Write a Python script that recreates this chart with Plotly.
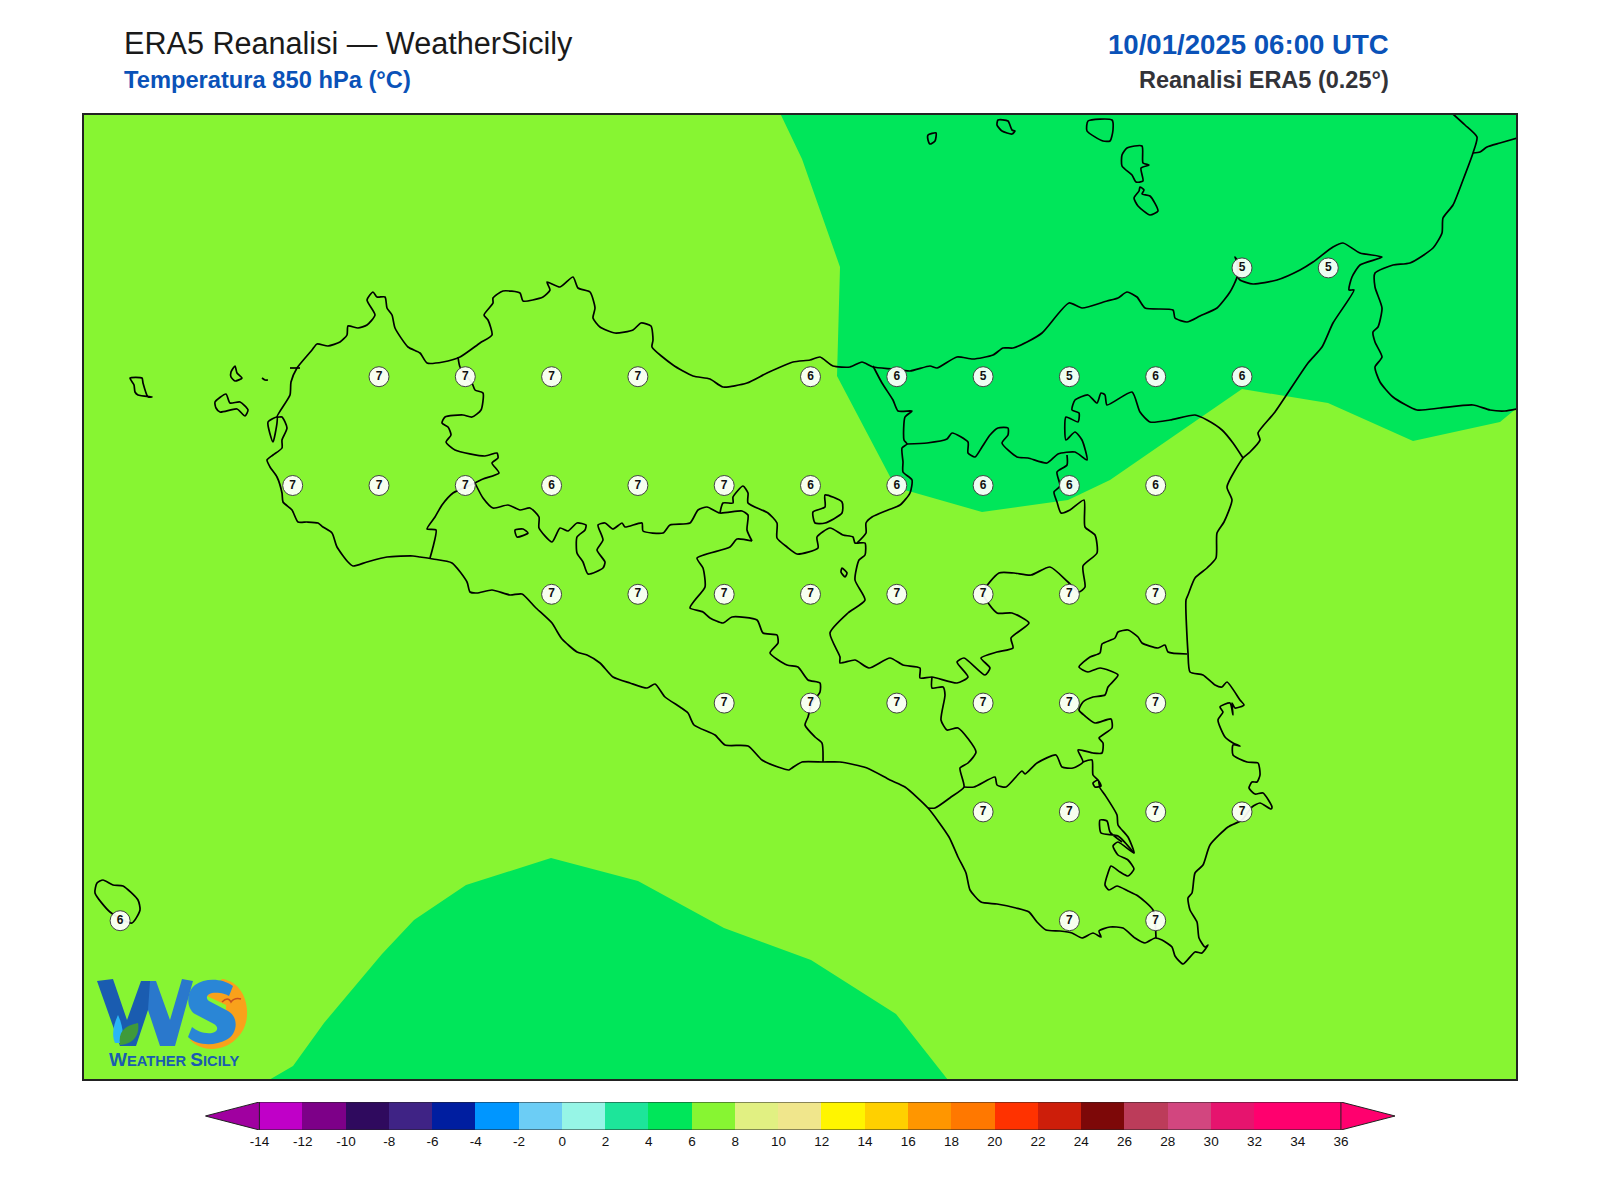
import plotly.graph_objects as go

W, H = 1600, 1200

griglia_lon = [15.25, 15.5,
               12.75, 13.0, 13.25, 13.5, 14.0, 14.25, 14.5, 14.75, 15.0, 15.25,
               12.5, 12.75, 13.0, 13.25, 13.5, 13.75, 14.0, 14.25, 14.5, 14.75, 15.0,
               13.25, 13.5, 13.75, 14.0, 14.25, 14.5, 14.75, 15.0,
               13.75, 14.0, 14.25, 14.5, 14.75, 15.0,
               14.5, 14.75, 15.0, 15.25,
               12.0, 14.75, 15.0]
griglia_lat = [38.5] * 2 + [38.25] * 10 + [38.0] * 11 + [37.75] * 8 + [37.5] * 6 + [37.25] * 4 + [37.0] * 3
griglia_t = [5, 5,
             7, 7, 7, 7, 6, 6, 5, 5, 6, 6,
             7, 7, 7, 6, 7, 7, 6, 6, 6, 6, 6,
             7, 7, 7, 7, 7, 7, 7, 7,
             7, 7, 7, 7, 7, 7,
             7, 7, 7, 7,
             6, 7, 7]

# scala colori
livelli = list(range(-14, 36, 2))
colori = ["#c000c8", "#7d0088", "#2f0a5e", "#3f2385", "#001ea0", "#0096ff", "#6ccdf5", "#96f5e6",
          "#1de59a", "#00e65a", "#87f532", "#e1f082", "#f0e68c", "#fff500", "#ffd000", "#ff9600",
          "#ff7800", "#ff3200", "#cd1e0a", "#7d0808", "#bc3c5a", "#d2467f", "#e6146e", "#ff006e", "#ff006e"]
tick_scala = list(range(-14, 38, 2))

# contorni ricalcati dalla mappa, in unita' carta
area_4_6_nord = [(780, 113), (802, 159), (840, 267), (837, 376), (896, 488), (912, 492), (982, 512), (1068, 500),
                 (1110, 480), (1242, 389), (1328, 403), (1413, 441), (1500, 422), (1517, 408), (1517, 113)]
area_4_6_sud = [(269, 1080), (293, 1066), (324, 1023), (382, 954), (414, 920), (466, 885), (551, 858), (638, 881),
                (724, 928), (811, 960), (896, 1014), (948, 1080)]

sicilia = [(353, 566), (348, 562), (337, 547), (332, 533), (323, 527), (318, 523), (307, 522), (298, 522), (292, 510),
           (283, 502), (282, 493), (277, 477), (270, 467), (267, 460), (273, 455), (282, 448), (282, 440), (287, 428),
           (282, 417), (277, 417), (290, 395), (291, 382), (297, 368), (312, 350), (317, 344), (328, 346), (340, 342),
           (347, 335), (348, 326), (358, 328), (367, 325), (375, 315), (367, 300), (373, 292), (377, 297), (385, 297),
           (387, 308), (392, 315), (395, 328), (408, 347), (420, 353), (427, 363), (443, 362), (460, 357), (480, 343),
           (492, 335), (488, 320), (484, 315), (493, 303), (493, 298), (503, 291), (520, 293), (523, 301), (543, 297),
           (550, 290), (547, 282), (560, 287), (573, 277), (578, 288), (590, 292), (595, 308), (593, 318), (600, 327),
           (615, 333), (633, 330), (641, 323), (651, 326), (653, 340), (652, 347), (673, 365), (693, 376), (710, 379),
           (723, 387), (747, 383), (767, 373), (793, 362), (810, 360), (820, 357), (833, 366), (850, 367), (862, 362),
           (873, 367), (893, 369), (910, 371), (930, 366), (937, 368), (957, 357), (973, 359), (993, 355), (1003, 348),
           (1013, 348), (1027, 342), (1042, 333), (1069, 303), (1082, 308), (1107, 301), (1118, 298), (1127, 292),
           (1137, 297), (1145, 308), (1173, 310), (1175, 318), (1187, 322), (1200, 316), (1217, 308), (1230, 292),
           (1237, 277), (1237, 262), (1235, 257), (1238, 262), (1238, 277), (1240, 280), (1253, 284), (1277, 280),
           (1300, 270), (1313, 262), (1333, 247), (1343, 243), (1360, 253), (1382, 257), (1360, 265), (1352, 277),
           (1349, 290), (1354, 290), (1333, 323), (1322, 347), (1308, 363), (1275, 412), (1258, 433), (1260, 440),
           (1250, 452), (1243, 458), (1227, 487), (1232, 500), (1224, 522), (1217, 533), (1216, 558), (1207, 568),
           (1195, 578), (1188, 595), (1186, 600), (1188, 653), (1190, 672), (1203, 675), (1215, 685), (1222, 687),
           (1227, 682), (1240, 700), (1244, 705), (1235, 708), (1232, 703), (1233, 715), (1230, 703), (1220, 707),
           (1223, 712), (1218, 720), (1225, 737), (1233, 743), (1240, 746), (1233, 745), (1233, 755), (1247, 762),
           (1258, 763), (1260, 775), (1257, 782), (1252, 782), (1249, 788), (1255, 794), (1263, 793), (1272, 807),
           (1271, 809), (1260, 803), (1252, 807), (1242, 820), (1228, 827), (1210, 845), (1203, 865), (1195, 873),
           (1192, 893), (1188, 898), (1190, 910), (1197, 922), (1199, 938), (1205, 947), (1208, 945), (1202, 953),
           (1195, 952), (1183, 964), (1175, 956), (1172, 947), (1162, 940), (1155, 938), (1145, 943), (1135, 938),
           (1123, 928), (1110, 927), (1099, 931), (1101, 937), (1093, 933), (1082, 938), (1072, 933), (1060, 931),
           (1046, 930), (1037, 922), (1029, 912), (1016, 908), (997, 904), (981, 902), (970, 890), (966, 873),
           (958, 857), (949, 837), (928, 808), (905, 787), (890, 780), (867, 768), (840, 762), (823, 762), (802, 762),
           (792, 768), (789, 770), (778, 767), (762, 760), (748, 746), (725, 745), (715, 735), (694, 725), (688, 713),
           (680, 707), (665, 697), (655, 684), (647, 688), (630, 683), (613, 677), (600, 663), (587, 655), (577, 652),
           (562, 639), (558, 633), (552, 623), (535, 607), (522, 594), (510, 595), (492, 590), (477, 593), (470, 592),
           (467, 582), (452, 563), (433, 559), (420, 557), (413, 556), (387, 557), (367, 562), (353, 566)]

prov_tp_pa = [(458, 357), (460, 367), (472, 383), (475, 390), (483, 393), (481, 410), (472, 417), (463, 415), (445, 417),
              (442, 423), (448, 427), (451, 435), (446, 442), (455, 450), (485, 456), (497, 453), (498, 458), (492, 463),
              (499, 473), (483, 479), (475, 483), (453, 493), (442, 505), (435, 517), (427, 529), (436, 530), (433, 547),
              (430, 558)]
prov_pa_ag = [(475, 483), (483, 498), (493, 508), (508, 505), (520, 510), (530, 508), (539, 517), (539, 528), (552, 542),
              (560, 528), (568, 531), (577, 523), (586, 525), (585, 530), (577, 537), (577, 553), (583, 562), (588, 574),
              (603, 568), (605, 562), (597, 550), (603, 540), (598, 525), (605, 523), (613, 529), (622, 523), (625, 527),
              (642, 523), (643, 531), (663, 533), (670, 525), (690, 523), (698, 510), (707, 507), (720, 513), (742, 511),
              (748, 515), (747, 530), (752, 541)]
prov_ag_cl = [(752, 541), (737, 539), (730, 547), (697, 558), (703, 568), (705, 587), (695, 600), (690, 608), (703, 612),
              (710, 618), (723, 623), (732, 617), (757, 620), (763, 633), (777, 635), (778, 643), (770, 653), (787, 665),
              (798, 667), (808, 680), (820, 683), (820, 692), (812, 703), (808, 717), (805, 725), (815, 737), (822, 743),
              (823, 762)]
prov_pa_cl = [(720, 513), (723, 503), (733, 503), (733, 497), (743, 486), (748, 493), (748, 503), (768, 513), (777, 523),
              (777, 538), (787, 547), (797, 554), (818, 548), (817, 537), (830, 528), (843, 535), (853, 537), (855, 543),
              (865, 543), (865, 555), (859, 560), (855, 580), (865, 600), (848, 613), (830, 633), (840, 657), (840, 663),
              (855, 660), (869, 668), (890, 658), (903, 665), (920, 668), (920, 678), (932, 677), (957, 683), (968, 677),
              (957, 662), (964, 658), (985, 675), (990, 668), (981, 658), (997, 652), (1013, 648), (1011, 638), (1029, 623),
              (1012, 613), (997, 613), (983, 593), (999, 573), (1014, 573), (1031, 575), (1050, 567), (1068, 582), (1079, 592),
              (1085, 587), (1083, 566), (1097, 553), (1095, 535), (1085, 527), (1084, 500), (1070, 510), (1061, 513),
              (1057, 502), (1054, 492), (1060, 486), (1057, 472), (1067, 465), (1067, 455)]
prov_me_pa = [(873, 366), (882, 383), (893, 400), (898, 411), (912, 411), (905, 417), (904, 440), (907, 444), (902, 448),
              (903, 462), (903, 472), (912, 480), (910, 493), (900, 505), (888, 510), (872, 517), (866, 523), (866, 533),
              (857, 543)]
prov_me_ct = [(907, 444), (927, 443), (947, 439), (952, 433), (968, 442), (968, 453), (975, 457), (982, 447), (990, 435),
              (998, 428), (1008, 428), (1008, 435), (1002, 443), (1017, 457), (1028, 458), (1047, 463), (1058, 454),
              (1075, 452), (1087, 460), (1082, 440), (1075, 432), (1066, 440), (1066, 417), (1078, 422), (1079, 413),
              (1072, 410), (1075, 400), (1088, 395), (1097, 403), (1101, 393), (1105, 395), (1107, 405), (1132, 392),
              (1140, 412), (1150, 422), (1170, 420), (1195, 415), (1207, 420), (1222, 430), (1233, 443), (1243, 458)]
prov_cl_rg = [(932, 677), (932, 688), (943, 687), (945, 695), (941, 720), (947, 730), (958, 728), (976, 752), (968, 763),
              (960, 768), (964, 787), (951, 797), (935, 808), (928, 808)]
prov_ct_rg = [(964, 787), (974, 787), (995, 777), (997, 785), (1006, 787), (1022, 771), (1025, 774), (1037, 763),
              (1056, 755), (1062, 767), (1073, 768), (1083, 762), (1078, 750), (1093, 753), (1102, 753), (1103, 743),
              (1099, 738), (1112, 728), (1111, 719), (1095, 723), (1085, 716), (1079, 710), (1083, 702), (1093, 697),
              (1105, 695), (1108, 687), (1118, 675), (1100, 668), (1088, 672), (1079, 667), (1090, 657), (1100, 653),
              (1102, 644), (1115, 638), (1118, 632), (1128, 630), (1138, 637), (1142, 643), (1158, 648), (1165, 645),
              (1168, 652), (1187, 654)]
prov_rg_sr = [(1083, 762), (1092, 760), (1093, 775), (1098, 780), (1101, 786), (1095, 787), (1093, 783), (1098, 780),
              (1100, 788), (1105, 795), (1117, 815), (1118, 825), (1128, 837), (1134, 853), (1118, 842), (1113, 846),
              (1118, 855), (1128, 860), (1134, 869), (1128, 876), (1120, 872), (1111, 866), (1108, 873), (1105, 885),
              (1109, 890), (1117, 886), (1128, 891), (1138, 896), (1153, 910), (1156, 938)]
lago_rg = [(1134, 853), (1118, 836), (1101, 833), (1100, 820), (1107, 821), (1110, 832), (1122, 842)]

lago_rosamarina = [(825, 495), (842, 502), (842, 513), (825, 523), (815, 523), (813, 512), (825, 507), (825, 495)]
lago_pozzillo = [(842, 568), (847, 573), (845, 577), (841, 572), (842, 568)]
lago_arancio = [(515, 530), (523, 529), (528, 533), (517, 537), (515, 530)]

marettimo = [(130, 378), (142, 378), (143, 383), (148, 397), (152, 397), (138, 395), (135, 392), (134, 385), (130, 378)]
levanzo = [(235, 366), (237, 373), (242, 378), (235, 381), (231, 377), (231, 372), (235, 366)]
favignana = [(215, 402), (226, 394), (230, 403), (240, 402), (248, 410), (245, 416), (237, 409), (220, 412), (216, 408), (215, 402)]
formica = [(262, 378), (265, 380), (268, 380)]
trapani_molo = [(290, 368), (300, 368)]
stagnone = [(268, 422), (273, 442), (277, 423), (277, 417), (268, 422)]
pantelleria = [(97, 883), (103, 880), (113, 885), (123, 886), (138, 900), (140, 910), (132, 923), (110, 912), (95, 893), (97, 883)]

alicudi = [(928, 135), (936, 133), (935, 141), (930, 144), (928, 140), (928, 135)]
filicudi = [(998, 120), (1008, 121), (1012, 130), (1015, 131), (1012, 134), (1002, 131), (997, 125), (998, 120)]
salina = [(1088, 121), (1112, 120), (1113, 130), (1110, 141), (1103, 141), (1087, 131), (1088, 121)]
lipari = [(1127, 148), (1142, 146), (1143, 163), (1149, 165), (1141, 168), (1143, 181), (1136, 182), (1132, 175),
          (1122, 166), (1122, 155), (1127, 148)]
vulcano = [(1140, 187), (1144, 190), (1142, 194), (1150, 196), (1158, 211), (1150, 215), (1138, 206), (1134, 198),
           (1139, 191), (1140, 187)]

calabria = [(1453, 114), (1465, 125), (1477, 137), (1473, 153), (1463, 180), (1453, 205), (1443, 218), (1442, 233),
            (1433, 248), (1410, 263), (1393, 265), (1375, 273), (1375, 287), (1382, 308), (1378, 327), (1373, 332),
            (1375, 342), (1382, 357), (1375, 367), (1380, 382), (1393, 397), (1417, 410), (1440, 408), (1473, 405),
            (1490, 410), (1505, 411), (1517, 409)]
calabria_confine = [(1473, 153), (1480, 152), (1487, 147), (1500, 143), (1517, 138)]

contorni = [sicilia, prov_tp_pa, prov_pa_ag, prov_ag_cl, prov_pa_cl, prov_me_pa, prov_me_ct, prov_cl_rg, prov_ct_rg,
            prov_rg_sr, lago_rg, lago_rosamarina, lago_pozzillo, lago_arancio, marettimo, levanzo, favignana, formica,
            trapani_molo, stagnone, pantelleria, alicudi, filicudi, salina, lipari, vulcano, calabria, calabria_confine]

# georeferenziazione: 12.5E / 38.0N e scala della carta
U0, V0, KU, KV = 292.7, 485.5, 345.2, 435.2


def a_lon(u):
    return 12.5 + (u - U0) / KU


def a_lat(v):
    return 38.0 - (v - V0) / KV


def px(x):
    return x / W


def py(y):
    return 1 - y / H


def tracciato(punti, chiudi=True):
    # punti = [("M", x, y), ("C", x1, y1, x2, y2, x, y), ("L", x, y)] in pixel pagina -> path su paper
    parti = []
    for p in punti:
        coord = p[1:]
        testo = " ".join(f"{px(coord[i]):.5f} {py(coord[i + 1]):.5f}" for i in range(0, len(coord), 2))
        parti.append(f"{p[0]} {testo}")
    return " ".join(parti) + (" Z" if chiudi else "")


fig = go.Figure()

# campiture temperatura
for area in [area_4_6_nord, area_4_6_sud]:
    fig.add_trace(go.Scatter(x=[a_lon(p[0]) for p in area], y=[a_lat(p[1]) for p in area], mode="lines",
                             fill="toself", fillcolor="#00e65a", line=dict(width=0), hoverinfo="skip"))

# coste e confini
cx, cy = [], []
for tratto in contorni:
    cx += [a_lon(p[0]) for p in tratto] + [None]
    cy += [a_lat(p[1]) for p in tratto] + [None]
fig.add_trace(go.Scatter(x=cx, y=cy, mode="lines", line=dict(color="black", width=1.7, shape="spline", smoothing=0.6),
                         hoverinfo="skip"))

# valori sui punti griglia
fig.add_trace(go.Scatter(x=griglia_lon, y=griglia_lat, mode="markers+text", text=[str(t) for t in griglia_t],
                         textposition="middle center",
                         textfont=dict(family="Liberation Sans", size=12, color="#111111", weight="bold"),
                         marker=dict(size=20, color="rgba(255,255,255,0.93)", line=dict(color="#444444", width=1))))

# barra colori
fig.add_trace(go.Bar(x=[l + 1 for l in livelli], y=[1] * len(livelli), width=[2] * len(livelli), marker_color=colori,
                     marker_line_width=0, xaxis="x2", yaxis="y2", hoverinfo="skip"))
fig.add_trace(go.Scatter(x=[-14, -16.5, -14, -14], y=[0, 0.5, 1, 0], mode="lines", fill="toself", fillcolor="#a000a0",
                         line=dict(color="#222222", width=1), xaxis="x2", yaxis="y2", hoverinfo="skip"))
fig.add_trace(go.Scatter(x=[36, 38.5, 36, 36], y=[0, 0.5, 1, 0], mode="lines", fill="toself", fillcolor="#ff006e",
                         line=dict(color="#222222", width=1), xaxis="x2", yaxis="y2", hoverinfo="skip"))
fig.add_trace(go.Scatter(x=[-14, 36, None, -14, 36], y=[1, 1, None, 0, 0], mode="lines",
                         line=dict(color="#222222", width=1), xaxis="x2", yaxis="y2", hoverinfo="skip"))

font_base = "Liberation Sans"
titoli = [
    ("ERA5 Reanalisi — WeatherSicily", 122, 44, "left", 30.6, "#1a1a1a"),
    ("<b>Temperatura 850 hPa (°C)</b>", 122, 80, "left", 23.7, "#0a52b8"),
    ("<b>10/01/2025 06:00 UTC</b>", 1391, 45, "right", 27.6, "#0a52b8"),
    ("<b>Reanalisi ERA5 (0.25°)</b>", 1391, 80, "right", 23.5, "#333338"),
]
annotazioni = [dict(text=t, x=px(x), y=py(y), xref="paper", yref="paper", xanchor=a, yanchor="middle",
                    showarrow=False, font=dict(family=font_base, size=s, color=c))
               for t, x, y, a, s, c in titoli]

# scritta del logo
annotazioni.append(dict(text="<b>W<span style='font-size:14.7px'>EATHER </span>S<span style='font-size:14.7px'>ICILY</span></b>",
                        x=px(173.5), y=py(1059), xref="paper", yref="paper", xanchor="center", yanchor="middle",
                        showarrow=False, font=dict(family=font_base, size=19, color="#1a5cb0")))

# sfondo mappa e logo WS
sfondo = dict(type="rect", xref="x domain", yref="y domain", x0=0, x1=1, y0=0, y1=1, fillcolor="#87f532",
              line=dict(width=0), layer="below")
logo_arancio = [("M", 222, 979), ("C", 240, 981, 248, 1000, 247, 1014), ("C", 247, 1034, 230, 1049, 212, 1049),
                ("C", 204, 1049, 196, 1046, 190, 1040), ("L", 226, 1030), ("L", 226, 1005), ("L", 207, 996)]
logo_s = [("M", 233, 986), ("C", 222, 978, 205, 978, 195, 985), ("C", 186, 992, 186, 1008, 195, 1014), ("L", 214, 1024),
          ("C", 219, 1027, 218, 1032, 212, 1033), ("C", 204, 1034, 197, 1031, 192, 1027), ("L", 188, 1037),
          ("C", 197, 1046, 215, 1046, 226, 1040), ("C", 238, 1034, 239, 1017, 228, 1011), ("L", 209, 1001),
          ("C", 205, 998, 207, 994, 212, 993), ("C", 219, 992, 226, 994, 229, 996)]
logo_w_sx = [("M", 97, 981), ("L", 113, 979), ("L", 127, 1020), ("L", 141, 981), ("L", 150, 981), ("L", 148, 1010),
             ("L", 136, 1046), ("L", 120, 1046)]
logo_w_dx = [("M", 141, 981), ("L", 156, 981), ("L", 170, 1020), ("L", 182, 979), ("L", 193, 981), ("L", 175, 1046),
             ("L", 160, 1046), ("L", 148, 1010)]
logo_goccia = [("M", 118, 1015), ("C", 122, 1024, 124, 1032, 122, 1043), ("L", 115, 1043), ("C", 111, 1034, 114, 1024, 118, 1015)]
logo_foglia = [("M", 120, 1045), ("C", 118, 1032, 124, 1026, 138, 1023), ("C", 140, 1034, 134, 1044, 120, 1045)]
logo_uccello = [("M", 222, 1002), ("C", 226, 998, 229, 998, 231, 1002), ("C", 234, 998, 237, 998, 241, 999)]


def forma(punti, colore):
    return dict(type="path", xref="paper", yref="paper", layer="above", fillcolor=colore, line=dict(width=0),
                path=tracciato(punti))


forme = [sfondo, forma(logo_arancio, "#f9a11b"), forma(logo_s, "#2a86d6"), forma(logo_w_dx, "#2a78cc"),
         forma(logo_w_sx, "#1a5cb0"), forma(logo_goccia, "#29b6f6"), forma(logo_foglia, "#3f9a3a"),
         dict(type="path", xref="paper", yref="paper", layer="above", line=dict(color="#c8501e", width=1.5),
              path=tracciato(logo_uccello, chiudi=False))]

fig.update_layout(
    width=W, height=H, showlegend=False, paper_bgcolor="white", plot_bgcolor="white", bargap=0,
    margin=dict(l=0, r=0, t=0, b=0), font=dict(family=font_base), annotations=annotazioni, shapes=forme,
    xaxis=dict(domain=[px(84), px(1516)], range=[a_lon(84), a_lon(1516)], showgrid=False, zeroline=False,
               showticklabels=False, ticks="", showline=True, mirror=True, linecolor="#222222", linewidth=1.5),
    yaxis=dict(domain=[py(1079), py(114.5)], range=[a_lat(1079), a_lat(114.5)], showgrid=False, zeroline=False,
               showticklabels=False, ticks="", showline=True, mirror=True, linecolor="#222222", linewidth=1.5),
    xaxis2=dict(domain=[px(205.3), px(1395)], range=[-16.5, 38.5], anchor="y2", tickvals=tick_scala,
                ticktext=[str(t) for t in tick_scala], showgrid=False, zeroline=False, ticks="", showline=False,
                ticklabelstandoff=1, tickfont=dict(family=font_base, size=13.5, color="#111111")),
    yaxis2=dict(domain=[py(1130), py(1102)], range=[0, 1], anchor="x2", showgrid=False, zeroline=False,
                showticklabels=False, ticks="", showline=False),
)

fig.write_html("out.html", config={"displayModeBar": False}, post_script="document.body.style.margin='0';")
